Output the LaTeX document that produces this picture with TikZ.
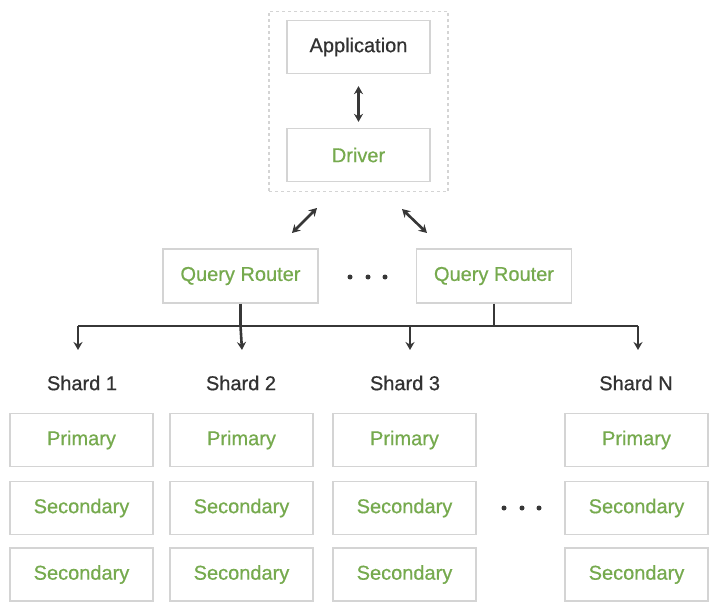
\documentclass[tikz,border=0pt]{standalone}
\usepackage{fontspec}
\setmainfont{Liberation Sans}
\newfontfamily\diafont[FakeBold=0.6]{Liberation Sans}
\usetikzlibrary{arrows.meta}
\definecolor{boxgray}{RGB}{212,212,212}
\definecolor{txtgreen}{RGB}{118,170,78}
\definecolor{darkline}{RGB}{55,55,55}
\definecolor{labgray}{RGB}{50,50,50}
\tikzset{
  box/.style={draw=boxgray, line width=1.3pt, minimum width=143pt, minimum height=53pt,
              text=txtgreen, font=\diafont\fontsize{20}{23}\selectfont, inner sep=0pt},
  qbox/.style={box, minimum width=155pt, minimum height=54pt},
  shardlab/.style={text=labgray, font=\diafont\fontsize{20}{23}\selectfont, inner sep=0pt},
  conn/.style={draw=darkline, line width=2.6pt},
  biarrow/.style={conn, {Stealth[length=8pt,width=9pt]}-{Stealth[length=8pt,width=9pt]}},
  downarrow/.style={conn, -{Stealth[length=8pt,width=9pt]}},
  dot/.style={circle, fill=darkline, minimum size=5pt, inner sep=0pt}
}
\begin{document}
\begin{tikzpicture}[x=1pt,y=-1pt]
\useasboundingbox (0,0) rectangle (725,615);
\fill[white] (0,0) rectangle (725,615);
% dashed enclosure
\node[draw=boxgray, dashed, line width=1.3pt, minimum width=179pt, minimum height=180pt, inner sep=0pt] (outer) at (358.5,101.5) {};
\node[box, text=labgray] (app) at (358.5,47) {Application};
\node[box] (drv) at (358.5,155) {Driver};
\draw[biarrow, shorten <=12pt, shorten >=6pt] (app.south) -- (drv.north);
% query routers
\node[qbox] (qr1) at (240.5,276) {Query Router};
\node[qbox] (qr2) at (494,276) {Query Router};
\node[dot] (d1) at (350,277) {};
\node[dot] (d2) at (368,277) {};
\node[dot] (d3) at (385,277) {};
% diagonal arrows
\coordinate (la) at (317,208);
\coordinate (lb) at (292,233);
\coordinate (ra) at (402,209);
\coordinate (rb) at (427,233);
\draw[biarrow] (la) -- (lb);
\draw[biarrow] (ra) -- (rb);
% bus
\coordinate (busL) at (78,326);
\coordinate (busR) at (638,326);
\draw[conn] (busL) -- (busR);
\draw[conn] (qr1.south) -- (qr1.south |- busL);
\draw[conn] (qr2.south) -- (qr2.south |- busL);
% shard labels
\node[shardlab] (s1) at (82,383) {Shard 1};
\node[shardlab] (s2) at (241,383) {Shard 2};
\node[shardlab] (s3) at (405,383) {Shard 3};
\node[shardlab] (sn) at (636,383) {Shard N};
\coordinate (a1) at (78,350);
\coordinate (a2) at (242,350);
\coordinate (a3) at (410,350);
\coordinate (a4) at (638,350);
\draw[downarrow] (busL) -- (a1);
\draw[downarrow] (qr1.south |- busL) -- (a2);
\draw[downarrow] (410,326) -- (a3);
\draw[downarrow] (busR) -- (a4);
% shard columns
\foreach \n/\cx in {1/81.5, 2/241.5, 3/404.5, 4/636.5}{
  \node[box] (p\n) at (\cx,440) {Primary};
  \node[box] (sa\n) at (\cx,508) {Secondary};
  \node[box] (sb\n) at (\cx,574.5) {Secondary};
}
\node[dot] (e1) at (504,508) {};
\node[dot] (e2) at (522,508) {};
\node[dot] (e3) at (539,508) {};
\end{tikzpicture}
\end{document}
